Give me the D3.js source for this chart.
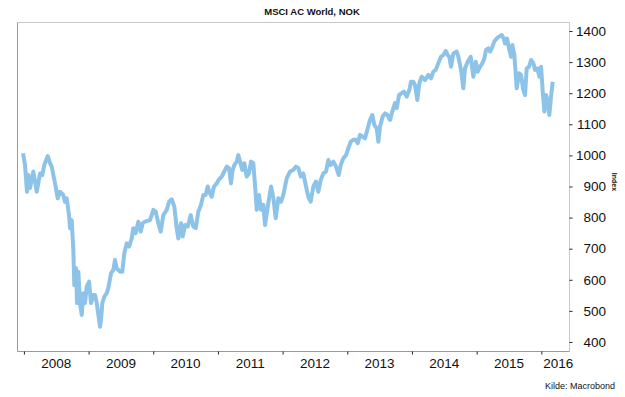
<!DOCTYPE html>
<html>
<head>
<meta charset="utf-8">
<script src="https://cdn.jsdelivr.net/npm/d3@7"></script>
<style>
  body { margin: 0; background: #fff; }
  svg text { font-family: "Liberation Sans", Arial, sans-serif; fill: #111; }
</style>
</head>
<body>
<figure id="msci" style="margin:0"></figure>
<script>
// time as decimal year
const years = [
  2007.986, 2008.017, 2008.048, 2008.068, 2008.094, 2008.145, 2008.198, 2008.249, 2008.284, 2008.315,
  2008.368, 2008.404, 2008.430, 2008.481, 2008.523, 2008.558, 2008.609, 2008.635, 2008.662, 2008.697,
  2008.713, 2008.739, 2008.764, 2008.779, 2008.806, 2008.821, 2008.841, 2008.867, 2008.894, 2008.918,
  2008.945, 2008.971, 2009.007, 2009.037, 2009.073, 2009.099, 2009.126, 2009.177, 2009.192, 2009.212,
  2009.243, 2009.280, 2009.305, 2009.347, 2009.382, 2009.409, 2009.435, 2009.486, 2009.521, 2009.552,
  2009.589, 2009.625, 2009.667, 2009.691, 2009.728, 2009.769, 2009.806, 2009.837, 2009.872, 2009.950,
  2010.001, 2010.038, 2010.078, 2010.115, 2010.155, 2010.208, 2010.244, 2010.285, 2010.326, 2010.362,
  2010.387, 2010.429, 2010.455, 2010.491, 2010.533, 2010.579, 2010.619, 2010.656, 2010.697, 2010.738,
  2010.774, 2010.811, 2010.842, 2010.877, 2010.904, 2010.939, 2010.981, 2011.017, 2011.058, 2011.098,
  2011.136, 2011.171, 2011.202, 2011.222, 2011.253, 2011.290, 2011.315, 2011.341, 2011.377, 2011.408,
  2011.445, 2011.480, 2011.511, 2011.547, 2011.573, 2011.600, 2011.635, 2011.666, 2011.702, 2011.728,
  2011.770, 2011.821, 2011.857, 2011.893, 2011.934, 2011.975, 2012.011, 2012.063, 2012.114, 2012.165,
  2012.207, 2012.243, 2012.280, 2012.320, 2012.362, 2012.397, 2012.434, 2012.475, 2012.516, 2012.552,
  2012.589, 2012.629, 2012.671, 2012.707, 2012.744, 2012.784, 2012.826, 2012.867, 2012.898, 2012.939,
  2012.980, 2013.016, 2013.053, 2013.093, 2013.135, 2013.161, 2013.197, 2013.238, 2013.274, 2013.309,
  2013.351, 2013.387, 2013.418, 2013.455, 2013.480, 2013.506, 2013.548, 2013.583, 2013.619, 2013.661,
  2013.696, 2013.738, 2013.764, 2013.800, 2013.841, 2013.877, 2013.918, 2013.959, 2013.985, 2014.021,
  2014.047, 2014.083, 2014.114, 2014.150, 2014.201, 2014.253, 2014.294, 2014.330, 2014.367, 2014.407,
  2014.449, 2014.485, 2014.522, 2014.553, 2014.578, 2014.604, 2014.640, 2014.692, 2014.717, 2014.759,
  2014.794, 2014.820, 2014.862, 2014.908, 2014.949, 2014.986, 2015.017, 2015.052, 2015.088, 2015.119,
  2015.145, 2015.180, 2015.207, 2015.233, 2015.273, 2015.310, 2015.346, 2015.388, 2015.419, 2015.439,
  2015.470, 2015.501, 2015.532, 2015.552, 2015.583, 2015.620, 2015.656, 2015.686, 2015.722, 2015.748,
  2015.774, 2015.810, 2015.841, 2015.877, 2015.903, 2015.938, 2015.970, 2015.996, 2016.022, 2016.048,
  2016.073, 2016.099, 2016.124, 2016.150, 2016.176
];

const index = [
  1007, 969, 883, 937, 895, 948, 883, 942, 937, 969,
  998, 975, 964, 910, 862, 883, 873, 851, 862, 808,
  766, 792, 696, 583, 637, 525, 626, 525, 487, 557,
  525, 578, 594, 525, 551, 551, 525, 449, 471, 525,
  546, 557, 573, 621, 632, 664, 637, 626, 626, 685,
  717, 707, 733, 766, 750, 787, 755, 782, 787, 792,
  825, 819, 782, 755, 808, 825, 851, 859, 835, 766,
  733, 782, 739, 776, 771, 808, 771, 766, 819, 841,
  873, 873, 900, 878, 867, 900, 910, 923, 932, 948,
  964, 959, 910, 948, 969, 980, 1001, 980, 953, 975,
  932, 942, 980, 975, 905, 825, 873, 825, 841, 776,
  835, 900, 862, 798, 862, 851, 873, 926, 948, 953,
  964, 959, 932, 942, 900, 867, 851, 900, 916, 883,
  921, 942, 948, 985, 969, 980, 964, 937, 969, 991,
  1001, 1023, 1044, 1050, 1050, 1039, 1066, 1060, 1055, 1082,
  1114, 1130, 1098, 1087, 1044, 1093, 1125, 1135, 1130, 1114,
  1141, 1168, 1152, 1194, 1200, 1205, 1189, 1210, 1237, 1237,
  1226, 1178, 1232, 1253, 1242, 1259, 1248, 1269, 1275, 1296,
  1317, 1323, 1336, 1323, 1317, 1285, 1328, 1334, 1317, 1275,
  1216, 1280, 1301, 1317, 1253, 1301, 1269, 1285, 1296, 1312,
  1339, 1344, 1334, 1344, 1366, 1376, 1382, 1387, 1376, 1360,
  1376, 1344, 1317, 1355, 1323, 1216, 1264, 1259, 1210, 1194,
  1280, 1285, 1307, 1296, 1275, 1280, 1253, 1285, 1205, 1141,
  1194, 1173, 1130, 1189, 1237
];

const yearTicks = [2008, 2009, 2010, 2011, 2012, 2013, 2014, 2015, 2016];
const valueTicks = [400, 500, 600, 700, 800, 900, 1000, 1100, 1200, 1300, 1400];

const width = 625;
const height = 397;
const plot = { left: 17, top: 22, right: 569, bottom: 351 };

const svg = d3.select('figure#msci')
  .append('svg')
  .attr('width', width)
  .attr('height', height);

const x = d3.scaleLinear()
  .domain([2007.893, 2016.428])
  .range([plot.left, plot.right]);

const y = d3.scaleLinear()
  .domain([371, 1429])
  .range([plot.bottom, plot.top]);

// frame
svg.append('path')
  .attr('d', `M${plot.left},${plot.bottom}V${plot.top}H${plot.right}V${plot.bottom}`)
  .attr('fill', 'none')
  .attr('stroke', '#c8c8c8')
  .attr('stroke-width', 1)
  .attr('transform', 'translate(0.5,0.5)');

svg.append('path')
  .attr('d', `M${plot.left},${plot.top}V${plot.bottom}H${plot.right}`)
  .attr('fill', 'none')
  .attr('stroke', '#9a9a9a')
  .attr('stroke-width', 1)
  .attr('transform', 'translate(0.5,0.5)');

// x axis: ticks at year starts, labels in the middle of each year
const xAxis = svg.append('g')
  .attr('transform', 'translate(0,' + (plot.bottom + 0.5) + ')')
  .call(d3.axisBottom(x).tickValues(yearTicks).tickSize(3).tickFormat(''));
xAxis.select('.domain').remove();
xAxis.selectAll('line').attr('stroke', '#222');

svg.append('g')
  .selectAll('text')
  .data(yearTicks)
  .enter()
  .append('text')
  .attr('x', d => x((d + Math.min(d + 1, x.domain()[1])) / 2) + (d === 2016 ? 3 : 0))
  .attr('y', 368)
  .style('text-anchor', 'middle')
  .style('font-size', '13.5px')
  .text(d => d);

// y axis on the right
const yAxis = svg.append('g')
  .attr('transform', 'translate(' + (plot.right + 0.5) + ',0)')
  .call(d3.axisRight(y).tickValues(valueTicks).tickSize(3).tickPadding(0).tickFormat(''));
yAxis.select('.domain').remove();
yAxis.selectAll('line').attr('stroke', '#222');

svg.append('g')
  .selectAll('text')
  .data(valueTicks)
  .enter()
  .append('text')
  .attr('x', 606)
  .attr('y', d => y(d))
  .attr('dy', '0.35em')
  .style('text-anchor', 'end')
  .style('font-size', '13.5px')
  .text(d => d);

svg.append('text')
  .attr('transform', 'translate(612,182) rotate(90)')
  .style('text-anchor', 'middle')
  .style('font-size', '7px')
  .style('font-weight', 'bold')
  .text('Index');

// the series
const line = d3.line()
  .x((d, i) => x(years[i]))
  .y(d => y(d));

svg.append('path')
  .datum(index)
  .attr('d', line)
  .attr('fill', 'none')
  .attr('stroke', '#8dc3e8')
  .attr('stroke-width', 4)
  .attr('stroke-linejoin', 'round');

// title and source
svg.append('text')
  .attr('x', 312)
  .attr('y', 15)
  .style('text-anchor', 'middle')
  .style('font-size', '9.5px')
  .style('font-weight', 'bold')
  .text('MSCI AC World, NOK');

svg.append('text')
  .attr('x', 615)
  .attr('y', 389)
  .style('text-anchor', 'end')
  .style('font-size', '9px')
  .text('Kilde: Macrobond');
</script>
</body>
</html>
